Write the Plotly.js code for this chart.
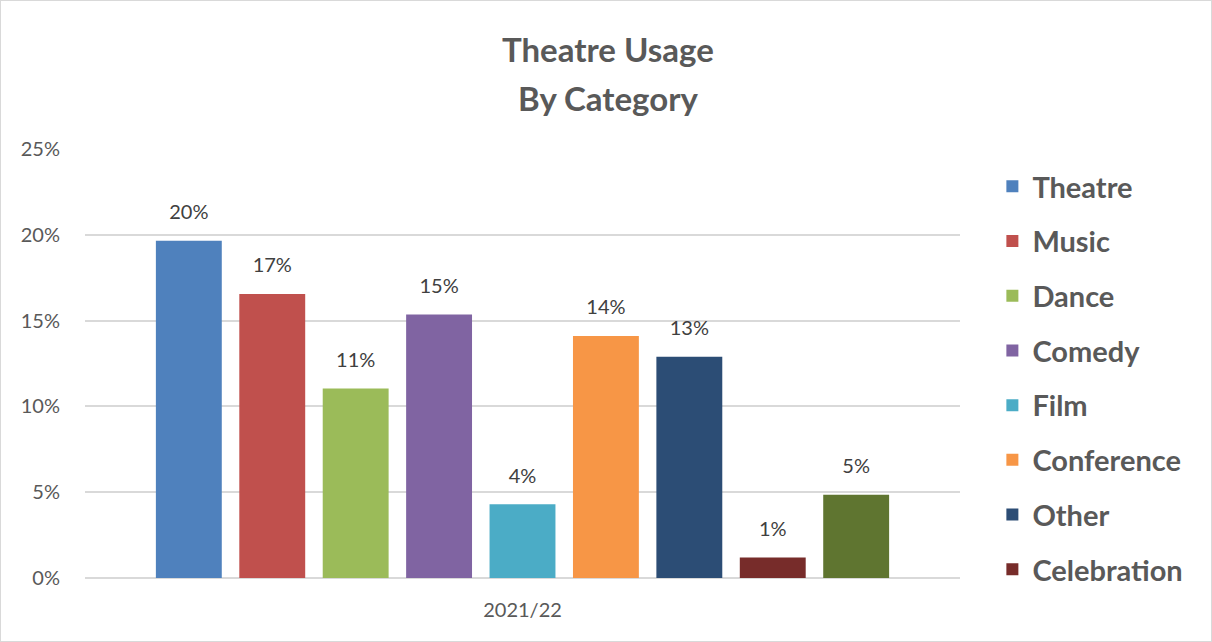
<!DOCTYPE html>
<html>
<head>
<meta charset="utf-8">
<script src="https://cdn.plot.ly/plotly-3.0.1.min.js"></script>
<style>
  html, body { margin: 0; padding: 0; background: #ffffff; }
  #chart { width: 1210px; height: 640px; border: 1px solid #d9d9d9; }
</style>
</head>
<body>
<div id="chart"></div>
<script>
// ---- Data ----
const period = ["2021/22"];
const seriesNames = ["Theatre", "Music", "Dance", "Comedy", "Film", "Conference", "Other", "Celebration", "Series 9"];
const seriesValues = [0.1965, 0.1655, 0.1105, 0.1535, 0.043, 0.141, 0.129, 0.012, 0.0485];
const seriesColors = ["#4f81bd", "#c0504d", "#9bbb59", "#8064a2", "#4bacc6", "#f79646", "#2c4d75", "#772c2a", "#5f7530"];
const showInLegend = [true, true, true, true, true, true, true, true, false];
const yTickVals = [0, 0.05, 0.10, 0.15, 0.20, 0.25];
const yTickText = ["0%", "5%", "10%", "15%", "20%", "25%"];
const titleLines = ["Theatre Usage", "By Category"];

const FONT = "Lato, 'Open Sans', 'Noto Sans', sans-serif";

const traces = seriesNames.map((name, i) => ({
  type: "bar",
  name: name,
  x: period,
  y: [seriesValues[i]],
  marker: { color: seriesColors[i] },
  texttemplate: "<span style='font-size:20px'>%{y:.0%}</span><br>&nbsp;",
  textposition: "outside",
  constraintext: "none",
  cliponaxis: false,
  textfont: { family: FONT, size: 12, color: "#404040" },
  showlegend: showInLegend[i],
  legendgroup: "g" + i,
  hoverinfo: "name+y"
}));

const layout = {
  width: 1210,
  height: 640,
  paper_bgcolor: "#ffffff",
  plot_bgcolor: "#ffffff",
  margin: { l: 84, r: 251, t: 148, b: 63 },
  annotations: [
    {
      text: "<b>" + titleLines[0] + "</b>",
      xref: "paper", yref: "paper",
      x: 0.598, y: (577 - 48) / 429,
      xanchor: "center", yanchor: "middle",
      showarrow: false,
      font: { family: FONT, size: 33, color: "#595959" }
    },
    {
      text: "<b>" + titleLines[1] + "</b>",
      xref: "paper", yref: "paper",
      x: 0.598, y: (577 - 97) / 429,
      xanchor: "center", yanchor: "middle",
      showarrow: false,
      font: { family: FONT, size: 33, color: "#595959" }
    }
  ],
  barmode: "group",
  bargap: 0.142,
  bargroupgap: 0.21,
  xaxis: {
    type: "category",
    showgrid: false,
    showline: false,
    ticks: "",
    ticklabelstandoff: 18,
    tickfont: { family: FONT, size: 20, color: "#595959" }
  },
  yaxis: {
    range: [0, 0.25],
    tickvals: yTickVals,
    ticktext: yTickText,
    showgrid: true,
    gridcolor: "#d9d9d9",
    gridwidth: 1.5,
    zeroline: true,
    zerolinecolor: "#d9d9d9",
    zerolinewidth: 1.5,
    showline: false,
    ticks: "",
    ticklabelstandoff: 24,
    tickfont: { family: FONT, size: 20, color: "#595959" }
  },
  legend: {
    x: 1.037,
    xanchor: "left",
    y: 0.972,
    yanchor: "top",
    maxheight: 620,
    traceorder: "grouped",
    tracegroupgap: 14,
    itemwidth: 30,
    font: { family: FONT, size: 29, color: "#595959", weight: "bold" },
    bgcolor: "rgba(0,0,0,0)"
  },
  showlegend: true
};

Plotly.newPlot("chart", traces, layout, { displayModeBar: false, responsive: false });
</script>
</body>
</html>
